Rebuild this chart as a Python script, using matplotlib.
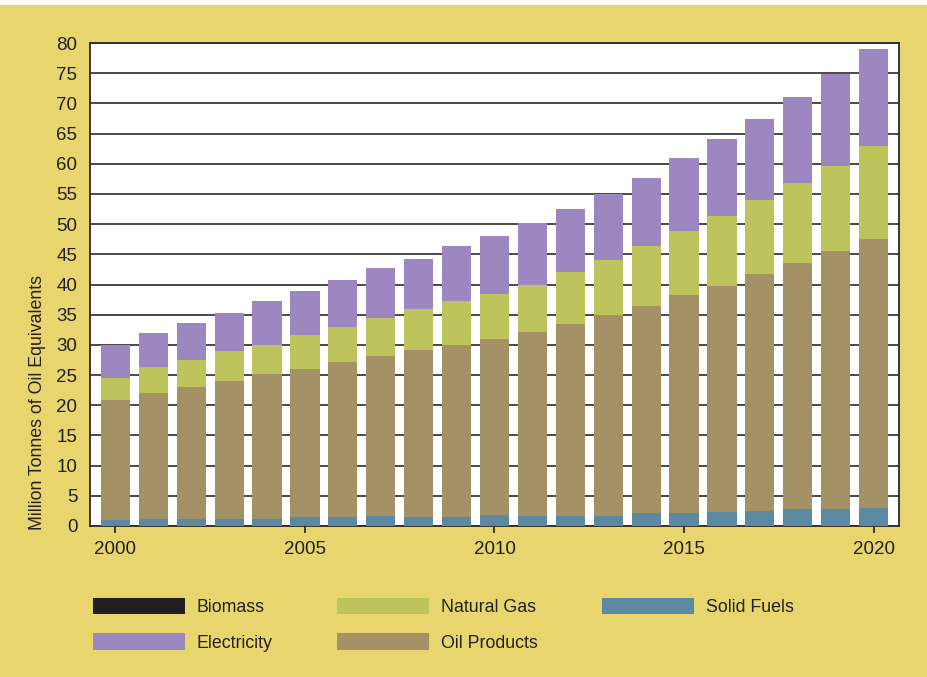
import numpy as np
import matplotlib
matplotlib.use("Agg")
import matplotlib.pyplot as plt
from matplotlib.patches import Rectangle

years = np.arange(2000, 2021)
biomass = [0.0] * 21
solid_fuels = [1.0, 1.1, 1.1, 1.1, 1.1, 1.5, 1.5, 1.6, 1.5, 1.5, 1.8,
               1.6, 1.6, 1.6, 2.1, 2.1, 2.3, 2.5, 2.8, 2.8, 3.0]
oil_products = [19.9, 21.0, 21.9, 22.9, 24.1, 24.5, 25.7, 26.6, 27.7, 28.5, 29.2,
                30.6, 31.9, 33.4, 34.4, 36.1, 37.5, 39.2, 40.7, 42.8, 44.6]
natural_gas = [3.6, 4.3, 4.5, 5.0, 4.8, 5.7, 5.8, 6.3, 6.7, 7.3, 7.5,
               7.8, 8.5, 9.0, 9.8, 10.6, 11.5, 12.3, 13.3, 14.0, 15.4]
electricity = [5.5, 5.6, 6.2, 6.3, 7.2, 7.3, 7.8, 8.2, 8.4, 9.0, 9.5,
               10.2, 10.5, 11.0, 11.3, 12.1, 12.8, 13.4, 14.2, 15.3, 16.0]

c_bio = "#231F20"
c_solid = "#5A89A1"
c_oil = "#A59166"
c_gas = "#BEC45C"
c_elec = "#9D87C0"
bg = "#E8D56E"
txt = "#231F20"

plt.rcParams['font.family'] = ['Liberation Sans', 'DejaVu Sans']

fig = plt.figure(figsize=(9.28, 6.77), dpi=100, facecolor=bg)
fig.patches.append(Rectangle((0, 1 - 5 / 677), 1, 5 / 677, transform=fig.transFigure,
                             facecolor="white", edgecolor="none"))
ax = fig.add_axes([90 / 928, 1 - 526 / 677, (899 - 90) / 928, (526 - 43) / 677])
ax.set_facecolor("white")

w = 0.77
bottom = np.zeros(len(years))
h_bio = ax.bar(years, biomass, w, bottom=bottom, color=c_bio, zorder=3)
bottom += biomass
h_solid = ax.bar(years, solid_fuels, w, bottom=bottom, color=c_solid, zorder=3)
bottom += solid_fuels
h_oil = ax.bar(years, oil_products, w, bottom=bottom, color=c_oil, zorder=3)
bottom += oil_products
h_gas = ax.bar(years, natural_gas, w, bottom=bottom, color=c_gas, zorder=3)
bottom += natural_gas
h_elec = ax.bar(years, electricity, w, bottom=bottom, color=c_elec, zorder=3)

ax.set_ylim(0, 80)
ax.set_xlim(1999.33, 2020.67)
ax.set_yticks(np.arange(0, 81, 5))
ax.set_xticks([2000, 2005, 2010, 2015, 2020])
ax.yaxis.grid(True, color="#3a3a3a", lw=1.3, zorder=1)
ax.set_axisbelow(True)
ax.tick_params(axis='y', length=0, pad=9, labelsize=13.5, labelcolor=txt)
ax.tick_params(axis='x', length=5, width=1.2, color=txt, pad=6, labelsize=13.5, labelcolor=txt)
for s in ax.spines.values():
    s.set_color("#2a2a2a")
    s.set_linewidth(1.3)

ax.set_ylabel("Million Tonnes of Oil Equivalents", fontsize=12.8, color=txt)
ax.yaxis.set_label_coords(-0.055, 0.255)

handles = [h_bio, h_elec, h_gas, h_oil, h_solid]
labels = ["Biomass", "Electricity", "Natural Gas", "Oil Products", "Solid Fuels"]
fig.legend(handles, labels, ncol=3, loc="upper left",
           bbox_to_anchor=(93 / 928, 1 - 598 / 677), frameon=False,
           fontsize=12.8, handlelength=5.2, handleheight=1.05, handletextpad=0.65,
           columnspacing=3.6, labelspacing=0.95, borderpad=0, borderaxespad=0,
           labelcolor=txt)

fig.savefig("out.png", dpi=100, facecolor=bg)
